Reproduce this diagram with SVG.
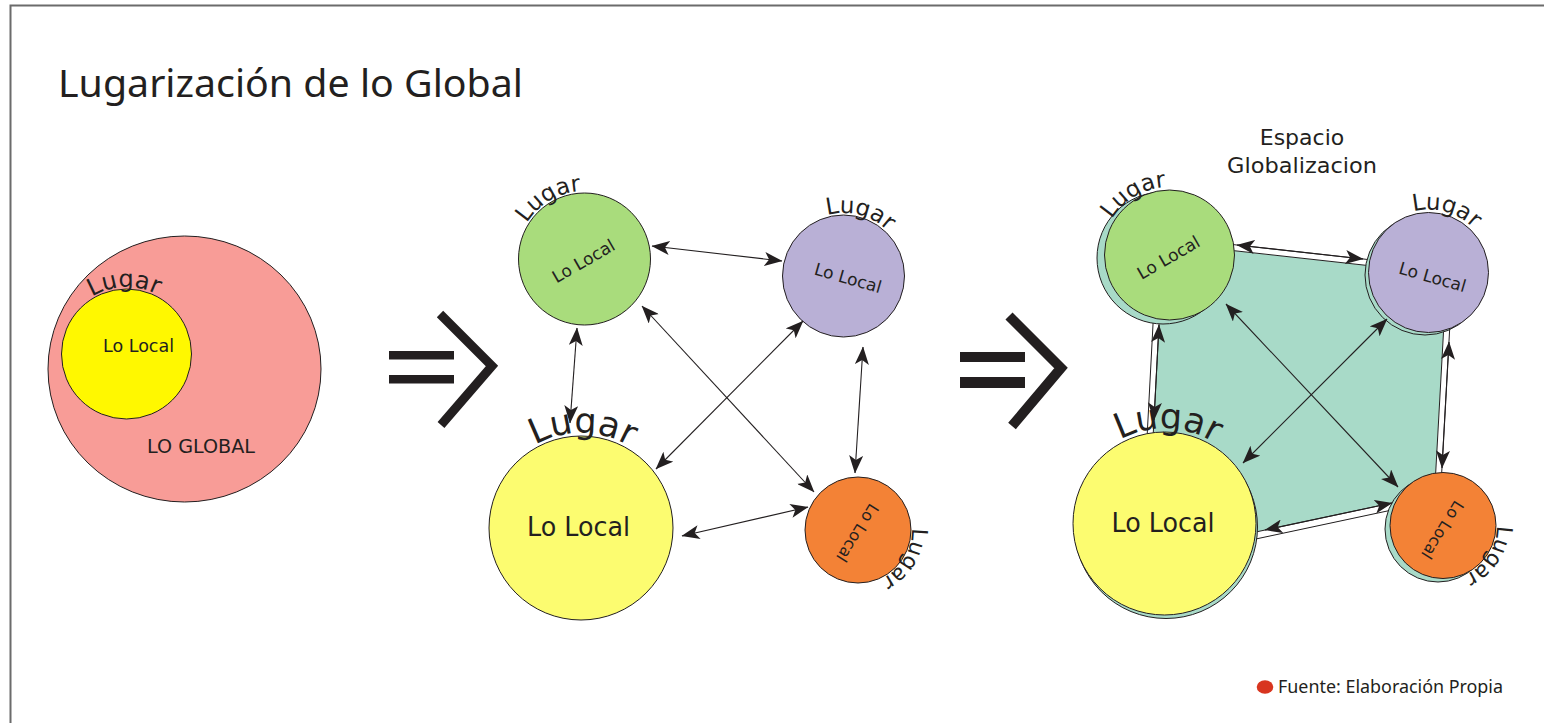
<svg xmlns="http://www.w3.org/2000/svg" width="1544" height="723" viewBox="0 0 1544 723">
  <style>
    .ink { fill: #231f20; }
    .lbl { font-family: "DejaVu Sans", "Liberation Sans", sans-serif; fill: #231f20; }
    .node { stroke: #231f20; stroke-width: 1; }
    .green { fill: #a9dc7c; }
    .purple { fill: #b9b0d6; }
    .yellow { fill: #fcfc70; }
    .orange { fill: #f38236; }
    .teal { fill: #a8dac8; }
    .conn { stroke: #231f20; stroke-width: 1.1; fill: none; marker-start: url(#ah); marker-end: url(#ah); }
    .band { fill: #ffffff; stroke: #231f20; stroke-width: 1; }
  </style>
  <defs>
    <marker id="ah" viewBox="0 0 18 14" refX="17.5" refY="7" markerWidth="18" markerHeight="14" markerUnits="userSpaceOnUse" orient="auto-start-reverse">
      <path d="M0,0 L18,7 L0,14 L4.5,7 Z" fill="#231f20"/>
    </marker>
    <!-- baseline arcs for the curved "Lugar" labels -->
    <path id="arc-p1" d="M92,296.6 A67,67 0 0 1 193.5,352.8"/>
    <path id="arc-g2" d="M526.8,223 A68,68 0 0 1 644.5,227.1"/>
    <path id="arc-v2" d="M827.2,215.1 A63,63 0 0 1 904.4,292.3"/>
    <path id="arc-y2" d="M534.9,444.9 A95,95 0 0 1 676,529.7"/>
    <path id="arc-o2" d="M912,528.1 A54,54 0 0 1 832.6,577.7"/>
    <path id="arc-g3" d="M1111.8,219 A68,68 0 0 1 1229.5,223.1"/>
    <path id="arc-v3" d="M1413.3,211.4 A63,63 0 0 1 1489.1,289.9"/>
    <path id="arc-y3" d="M1119.9,439.6 A95,95 0 0 1 1259.4,526.8"/>
    <path id="arc-o3" d="M1497,525.5 A54,54 0 0 1 1416,572.3"/>
  </defs>

  <rect width="1544" height="723" fill="#ffffff"/>
  <!-- frame -->
  <path d="M10.5,723 V5.5 H1544" fill="none" stroke="#6b6b6b" stroke-width="2"/>

  <text x="58" y="97" font-family="'Noto Sans', 'Open Sans', sans-serif" font-size="39" fill="#231f20" textLength="465" lengthAdjust="spacingAndGlyphs">Lugarización de lo Global</text>

  <!-- panel 1: the global containing the local -->
  <g id="global">
    <ellipse cx="184.5" cy="369" rx="136.5" ry="133" fill="#f89c97" class="node"/>
    <text class="lbl" x="147" y="453" font-size="19" textLength="108" lengthAdjust="spacingAndGlyphs">LO GLOBAL</text>
  </g>
  <g id="local-1">
    <circle cx="126.5" cy="354" r="65" fill="#fff800" class="node"/>
    <text class="lbl" x="103" y="352" font-size="17.5">Lo Local</text>
    <text class="lbl" font-size="24"><textPath href="#arc-p1">Lugar</textPath></text>
  </g>

  <!-- implication signs -->
  <g id="implies-1" class="ink">
    <rect x="389" y="351" width="65" height="8.5"/>
    <rect x="389" y="375" width="65" height="8.5"/>
    <polyline points="440,314 492,366 441,425" fill="none" stroke="#231f20" stroke-width="9" stroke-miterlimit="4"/>
  </g>
  <g id="implies-2" class="ink">
    <rect x="960" y="352" width="65" height="10"/>
    <rect x="960" y="377" width="65" height="11"/>
    <polyline points="1009,316 1061,368 1012,426" fill="none" stroke="#231f20" stroke-width="10" stroke-miterlimit="4"/>
  </g>

  <!-- panel 2: network of places -->
  <g id="place-green-2">
    <circle cx="584.5" cy="259" r="66" class="node green"/>
    <text class="lbl" font-size="17" text-anchor="middle" transform="translate(583.5,261) rotate(-30)" y="6">Lo Local</text>
    <text class="lbl" font-size="23"><textPath href="#arc-g2">Lugar</textPath></text>
  </g>
  <g id="place-purple-2">
    <circle cx="843.5" cy="276" r="61" class="node purple"/>
    <text class="lbl" font-size="17" text-anchor="middle" transform="translate(848,278) rotate(16)" y="6">Lo Local</text>
    <text class="lbl" font-size="23"><textPath href="#arc-v2">Lugar</textPath></text>
  </g>
  <g id="place-yellow-2">
    <circle cx="581" cy="528" r="92" class="node yellow"/>
    <text class="lbl" x="578.5" y="536" font-size="26" text-anchor="middle" textLength="103" lengthAdjust="spacingAndGlyphs">Lo Local</text>
    <text class="lbl" font-size="35"><textPath href="#arc-y2">Lugar</textPath></text>
  </g>
  <g id="place-orange-2">
    <circle cx="858" cy="530" r="53" class="node orange"/>
    <text class="lbl" font-size="16" text-anchor="middle" transform="translate(857.5,533) rotate(122)" y="5.5">Lo Local</text>
    <text class="lbl" font-size="22"><textPath href="#arc-o2">Lugar</textPath></text>
  </g>

  <!-- panel 3: shared globalisation space -->
  <g id="espacio">
    <polygon class="teal" points="1170,255 1225,249.7 1375,266.3 1428,272 1443.9,325 1435,485 1440,525 1400,508.3 1245,541.3 1165,525 1146.9,440 1153.5,315"/>
    <polygon class="band" points="1225,243.7 1375,260.3 1375,266.3 1225,249.7"/>
    <polygon class="band" points="1449.9,325 1441,485 1435,485 1443.9,325"/>
    <polygon class="band" points="1159.5,315 1152.9,440 1146.9,440 1153.5,315"/>
    <polygon class="band" points="1400,501.3 1245,534.3 1245,541.3 1400,508.3"/>
    <text class="lbl" x="1302" y="145" font-size="22" text-anchor="middle">Espacio</text>
    <text class="lbl" x="1302" y="173" font-size="22" text-anchor="middle" textLength="150" lengthAdjust="spacingAndGlyphs">Globalizacion</text>
  </g>
  <g id="place-green-3">
    <circle cx="1163" cy="258" r="66" class="node teal"/>
    <circle cx="1169.5" cy="255" r="65" class="node green"/>
    <text class="lbl" font-size="17" text-anchor="middle" transform="translate(1168.5,257.5) rotate(-30)" y="6">Lo Local</text>
    <text class="lbl" font-size="23"><textPath href="#arc-g3">Lugar</textPath></text>
  </g>
  <g id="place-purple-3">
    <circle cx="1425" cy="275" r="60" class="node teal"/>
    <circle cx="1428.5" cy="272.5" r="60" class="node purple"/>
    <text class="lbl" font-size="17" text-anchor="middle" transform="translate(1432.5,277) rotate(16)" y="6">Lo Local</text>
    <text class="lbl" font-size="23"><textPath href="#arc-v3">Lugar</textPath></text>
  </g>
  <g id="place-yellow-3">
    <circle cx="1166" cy="527" r="91.5" class="node teal"/>
    <circle cx="1164.5" cy="523.5" r="91.5" class="node yellow"/>
    <text class="lbl" x="1163" y="532" font-size="26" text-anchor="middle" textLength="103" lengthAdjust="spacingAndGlyphs">Lo Local</text>
    <text class="lbl" font-size="35"><textPath href="#arc-y3">Lugar</textPath></text>
  </g>
  <g id="place-orange-3">
    <circle cx="1438" cy="529" r="53" class="node teal"/>
    <circle cx="1443" cy="525.5" r="53" class="node orange"/>
    <text class="lbl" font-size="16" text-anchor="middle" transform="translate(1442.5,530) rotate(122)" y="5.5">Lo Local</text>
    <text class="lbl" font-size="22"><textPath href="#arc-o3">Lugar</textPath></text>
  </g>

  <!-- connectors -->
  <g id="connectors">
    <line class="conn" x1="652" y1="246" x2="782" y2="261"/>
    <line class="conn" x1="577" y1="328" x2="570" y2="423"/>
    <line class="conn" x1="642" y1="306" x2="814" y2="492"/>
    <line class="conn" x1="803" y1="321" x2="656" y2="469"/>
    <line class="conn" x1="863" y1="347" x2="855" y2="473"/>
    <line class="conn" x1="682" y1="536" x2="808" y2="507"/>

    <line class="conn" x1="1237" y1="245" x2="1363" y2="259"/>
    <line class="conn" x1="1159" y1="325" x2="1154" y2="420"/>
    <line class="conn" x1="1449" y1="342" x2="1442" y2="468"/>
    <line class="conn" x1="1392" y1="503" x2="1265" y2="530"/>
    <line class="conn" x1="1226" y1="304" x2="1398" y2="487"/>
    <line class="conn" x1="1387" y1="319" x2="1243" y2="463"/>
  </g>

  <!-- source note -->
  <g id="fuente">
    <ellipse cx="1265" cy="687" rx="8.3" ry="6.7" fill="#d8351f"/>
    <text x="1278" y="693" font-family="'Noto Sans', 'Open Sans', sans-serif" font-size="18" fill="#231f20" textLength="225" lengthAdjust="spacingAndGlyphs">Fuente: Elaboración Propia</text>
  </g>
</svg>
